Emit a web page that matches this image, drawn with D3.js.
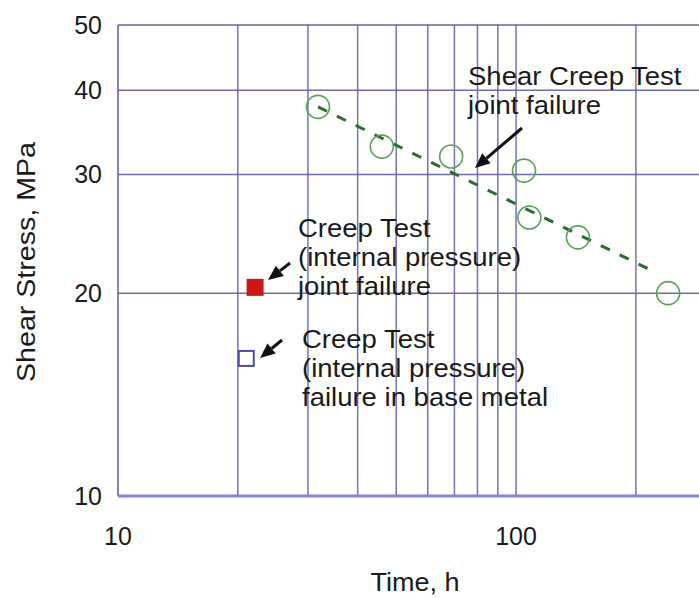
<!DOCTYPE html>
<html>
<head>
<meta charset="utf-8">
<title>Shear Stress vs Time</title>
<script src="https://cdn.jsdelivr.net/npm/d3@7/dist/d3.min.js"></script>
<style>
  body { margin: 0; background: #fff; }
  svg text { font-family: "Liberation Sans", Arial, Helvetica, sans-serif; fill: #1a1a1a; }
</style>
</head>
<body>
<svg id="chart" width="699" height="598"></svg>
<script>
// data
var shearTime   = [31.8, 46, 68.7, 104.7, 108, 143, 241];
var shearStress = [37.8, 33.0, 31.9, 30.4, 25.9, 24.2, 20.0];

var trendTime   = [31.8, 223];
var trendStress = [37.8, 21.5];

var jointTime = [22.1],  jointStress = [20.4];   // creep test, joint failure
var baseTime  = [21.0],  baseStress  = [16.0];   // creep test, base metal failure

var xTicks = [10, 100];
var yTicks = [10, 20, 30, 40, 50];
var xGrid  = [20, 30, 40, 50, 60, 70, 80, 90, 100, 200, 300];
var yGrid  = [20, 30, 40];

var svg = d3.select("#chart");

var x = d3.scaleLog().domain([10, 300]).range([118, 706]);
var y = d3.scaleLog().domain([10, 50]).range([496, 25]);

var stretch = 1.1;
function widen(sel, k) {
    sel.each(function () {
        var w = this.getComputedTextLength();
        d3.select(this).attr("textLength", w * k).attr("lengthAdjust", "spacingAndGlyphs");
    });
}

// grid
svg.append("g").selectAll("line")
    .data(xGrid).join("line")
    .attr("x1", d => x(d)).attr("x2", d => x(d))
    .attr("y1", y(50)).attr("y2", y(10))
    .attr("stroke", "#7474b6").attr("stroke-width", 1.5);

svg.append("g").selectAll("line")
    .data(yGrid).join("line")
    .attr("x1", x(10)).attr("x2", 699)
    .attr("y1", d => y(d)).attr("y2", d => y(d))
    .attr("stroke", "#6c6cac").attr("stroke-width", 1.5);

// frame
svg.append("line")
    .attr("x1", x(10)).attr("x2", 699).attr("y1", y(50)).attr("y2", y(50))
    .attr("stroke", "#6262a4").attr("stroke-width", 1.5);
svg.append("line")
    .attr("x1", x(10)).attr("x2", x(10)).attr("y1", y(50)).attr("y2", y(10))
    .attr("stroke", "#5a5aa2").attr("stroke-width", 1.5);
svg.append("line")
    .attr("x1", x(10)).attr("x2", 699).attr("y1", y(10)).attr("y2", y(10))
    .attr("stroke", "#8484d8").attr("stroke-width", 3);

// tick labels
svg.append("g").selectAll("text")
    .data(yTicks).join("text")
    .attr("x", 102).attr("y", d => y(d) + 9)
    .attr("text-anchor", "end").attr("font-size", 25)
    .text(d => d);

svg.append("g").selectAll("text")
    .data(xTicks).join("text")
    .attr("x", d => x(d)).attr("y", 545)
    .attr("text-anchor", "middle").attr("font-size", 25)
    .text(d => d);

// axis titles
svg.append("text")
    .attr("x", 415).attr("y", 591)
    .attr("text-anchor", "middle").attr("font-size", 25)
    .text("Time, h")
    .call(widen, 1.08);

svg.append("text")
    .attr("transform", "translate(35,262) rotate(-90)")
    .attr("text-anchor", "middle").attr("font-size", 26)
    .text("Shear Stress, MPa")
    .call(widen, stretch);

// trend line
var trend = d3.line()
    .x(d => x(d[0])).y(d => y(d[1]));
svg.append("path")
    .datum(d3.zip(trendTime, trendStress))
    .attr("d", trend)
    .attr("fill", "none")
    .attr("stroke", "#2b6b2b").attr("stroke-width", 3)
    .attr("stroke-dasharray", "10,11");

// shear creep test points
svg.append("g").selectAll("circle")
    .data(d3.zip(shearTime, shearStress)).join("circle")
    .attr("cx", d => x(d[0])).attr("cy", d => y(d[1]))
    .attr("r", 11.5)
    .attr("fill", "none")
    .attr("stroke", "#5aa05a").attr("stroke-width", 1.6);

// creep test squares
var sq = 17;
svg.append("g").selectAll("rect")
    .data(d3.zip(jointTime, jointStress)).join("rect")
    .attr("x", d => x(d[0]) - sq / 2).attr("y", d => y(d[1]) - sq / 2)
    .attr("width", sq).attr("height", sq)
    .attr("fill", "#d01515");

svg.append("g").selectAll("rect")
    .data(d3.zip(baseTime, baseStress)).join("rect")
    .attr("x", d => x(d[0]) - sq / 2 + 1).attr("y", d => y(d[1]) - sq / 2 + 1)
    .attr("width", sq - 2).attr("height", sq - 2)
    .attr("fill", "none")
    .attr("stroke", "#4c4cb0").attr("stroke-width", 2);

// annotations
function arrow(x1, y1, x2, y2) {
    var a = Math.atan2(y2 - y1, x2 - x1), len = 15, half = 6.5;
    var bx = x2 - len * Math.cos(a), by = y2 - len * Math.sin(a);
    svg.append("line")
        .attr("x1", x1).attr("y1", y1).attr("x2", bx).attr("y2", by)
        .attr("stroke", "#111").attr("stroke-width", 3);
    svg.append("path")
        .attr("d", "M" + x2 + "," + y2 +
            "L" + (bx + half * Math.sin(a)) + "," + (by - half * Math.cos(a)) +
            "L" + (bx - half * Math.sin(a)) + "," + (by + half * Math.cos(a)) + "Z")
        .attr("fill", "#111");
}

function label(x0, y0, lines) {
    svg.append("g").selectAll("text")
        .data(lines).join("text")
        .attr("x", x0).attr("y", (d, i) => y0 + i * 29)
        .attr("font-size", 25)
        .text(d => d)
        .call(widen, stretch);
}

label(468, 85, ["Shear Creep Test", "joint failure"]);
arrow(522, 128, 475, 168);

label(298, 237, ["Creep Test", "(internal pressure)", "joint failure"]);
arrow(290, 263, 268, 280);

label(302, 348, ["Creep Test", "(internal pressure)", "failure in base metal"]);
arrow(282, 340, 260, 358);
</script>
</body>
</html>
